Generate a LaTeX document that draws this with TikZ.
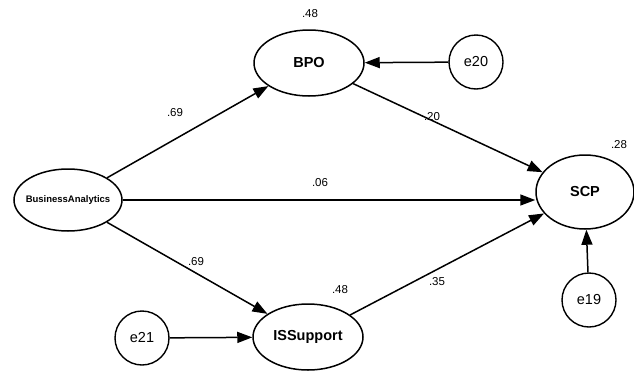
\documentclass[tikz,border=0pt]{standalone}
\usepackage{fontspec}
\setmainfont{Liberation Sans}
\usetikzlibrary{arrows.meta,shapes.geometric}
\begin{document}
\begin{tikzpicture}[x=1pt,y=-1pt,
  lat/.style={draw,ellipse,line width=1.5pt,font=\bfseries\fontsize{14.5}{16}\selectfont,inner sep=0pt},
  err/.style={draw,circle,line width=1.4pt,minimum size=54pt,inner sep=0pt,font=\fontsize{14.5}{16}\selectfont},
  arr/.style={line width=1.5pt,-{Triangle[length=15pt,width=11pt]}},
  lbl/.style={font=\fontsize{11.5}{13}\selectfont,inner sep=0pt}]
\useasboundingbox (0,0) rectangle (634,370);
\node[lat,inner xsep=-9pt,minimum width=108pt,minimum height=62pt,font=\bfseries\fontsize{9.5}{11}\selectfont] (ba) at (68,200) {BusinessAnalytics};
\node[lat,minimum width=110pt,minimum height=66pt] (bpo) at (309,63) {BPO};
\node[lat,minimum width=110pt,minimum height=66pt] (iss) at (308,337) {ISSupport};
\node[lat,minimum width=98pt,minimum height=74pt] (scp) at (585,192) {SCP};
\node[err] (e20) at (476,62) {e20};
\node[err] (e21) at (142,338) {e21};
\node[err] (e19) at (589,300) {e19};
\draw[arr] (ba) -- (bpo);
\draw[arr] (ba) -- (iss);
\draw[arr] (ba.east) -- (scp.west |- ba.east);
\draw[arr] (bpo) -- (scp);
\draw[arr] (iss) -- (scp);
\draw[arr] (e20) -- (bpo);
\draw[arr] (e21) -- (iss);
\draw[arr] (e19) -- (scp);
\node[lbl] (l1) at (310,14) {.48};
\node[lbl] (l2) at (175,113) {.69};
\node[lbl] (l3) at (432,117) {.20};
\node[lbl] (l4) at (320,183) {.06};
\node[lbl] (l5) at (619,145) {.28};
\node[lbl] (l6) at (196,262) {.69};
\node[lbl] (l7) at (437,282) {.35};
\node[lbl] (l8) at (340,290) {.48};
\end{tikzpicture}
\end{document}
